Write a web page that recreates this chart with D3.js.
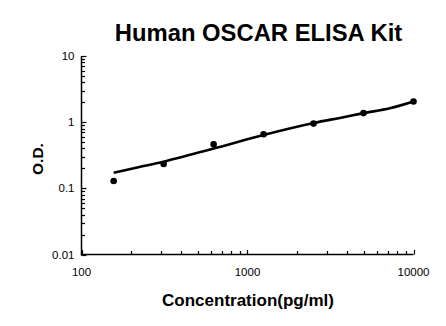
<!DOCTYPE html>
<html>
<head>
<meta charset="utf-8">
<script src="https://cdn.jsdelivr.net/npm/d3@7"></script>
<style>
  html, body { margin: 0; padding: 0; background: #fff; }
  svg { display: block; font-family: "Liberation Sans", Arial, sans-serif; }
</style>
</head>
<body>
<svg id="chart" width="446" height="326"></svg>
<script>
// Standard points (concentration in pg/ml, optical density)
const concentrations = [156.25, 312.5, 625, 1250, 2500, 5000, 10000];
const odValues = [0.129, 0.233, 0.464, 0.658, 0.952, 1.37, 2.05];

// Fitted standard curve, sampled along the concentration range
const curveConc = [156.25, 220, 312.5, 625, 1250, 2500, 3600, 5000, 7200, 10000];
const curveOD = [0.172, 0.209, 0.253, 0.40, 0.64, 0.97, 1.16, 1.37, 1.62, 2.05];

const xTickValues = [100, 1000, 10000];
const xTickLabels = ["100", "1000", "10000"];
const yTickValues = [0.01, 0.1, 1, 10];
const yTickLabels = ["0.01", "0.1", "1", "10"];

const titleText = "Human OSCAR ELISA Kit";
const xTitle = "Concentration(pg/ml)";
const yTitle = "O.D.";

const svg = d3.select("#chart");
const plotLeft = 81.5, plotRight = 413.5, plotTop = 56, plotBottom = 254.5;

const x = d3.scaleLog().domain([100, 10000]).range([plotLeft, plotRight]);
const y = d3.scaleLog().domain([0.01, 10]).range([plotBottom, plotTop]);

// minor ticks for each decade
const xMinor = [];
for (let d = 100; d < 10000; d *= 10) for (let k = 2; k <= 9; k++) xMinor.push(d * k);
const yMinor = [];
for (let d = 0.01; d < 9; d *= 10) for (let k = 2; k <= 9; k++) yMinor.push(+(d * k).toPrecision(3));

const axes = svg.append("g").attr("stroke", "#000");

// minor ticks (pointing inward)
axes.selectAll("line.xm").data(xMinor).join("line")
  .attr("x1", d => Math.round(x(d)) + 0.5).attr("x2", d => Math.round(x(d)) + 0.5)
  .attr("y1", plotBottom).attr("y2", plotBottom - 3.5).attr("stroke-width", 1.2);
axes.selectAll("line.ym").data(yMinor).join("line")
  .attr("y1", d => Math.round(y(d)) + 0.5).attr("y2", d => Math.round(y(d)) + 0.5)
  .attr("x1", plotLeft).attr("x2", plotLeft + 3.5).attr("stroke-width", 1.2);
// major ticks
axes.selectAll("line.xM").data(xTickValues).join("line")
  .attr("x1", d => Math.round(x(d)) + 0.5).attr("x2", d => Math.round(x(d)) + 0.5)
  .attr("y1", plotBottom).attr("y2", plotBottom - 4.5).attr("stroke-width", 1.2);
axes.selectAll("line.yM").data(yTickValues).join("line")
  .attr("y1", d => Math.round(y(d)) + 0.5).attr("y2", d => Math.round(y(d)) + 0.5)
  .attr("x1", plotLeft).attr("x2", plotLeft + 5).attr("stroke-width", 1.2);

// axis lines
axes.append("line").attr("x1", plotLeft).attr("x2", plotLeft).attr("y1", plotTop).attr("y2", plotBottom + 0.7).attr("stroke-width", 1.5);
axes.append("line").attr("x1", plotLeft - 0.7).attr("x2", plotRight).attr("y1", plotBottom).attr("y2", plotBottom).attr("stroke-width", 1.5);

// tick labels
svg.append("g").selectAll("text").data(xTickValues).join("text")
  .attr("x", d => x(d)).attr("y", 276)
  .attr("text-anchor", "middle").attr("font-size", 11.5).attr("fill", "#000")
  .text((d, i) => xTickLabels[i]);
svg.append("g").selectAll("text").data(yTickValues).join("text")
  .attr("x", plotLeft - 7).attr("y", d => y(d) + 4)
  .attr("text-anchor", "end").attr("font-size", 11.5).attr("fill", "#000")
  .text((d, i) => yTickLabels[i]);

// fitted curve
const curveData = curveConc.map((c, i) => [c, curveOD[i]]);
svg.append("path").datum(curveData)
  .attr("fill", "none").attr("stroke", "#000").attr("stroke-width", 2.6)
  .attr("d", d3.line().x(d => x(d[0])).y(d => y(d[1])).curve(d3.curveCatmullRom.alpha(0.5)));

// data points
svg.append("g").selectAll("circle").data(concentrations).join("circle")
  .attr("cx", d => x(d)).attr("cy", (d, i) => y(odValues[i]))
  .attr("r", 3.3).attr("fill", "#000");

// titles
svg.append("text").attr("x", 258.5).attr("y", 41)
  .attr("text-anchor", "middle").attr("font-size", 23.8).attr("font-weight", "bold")
  .text(titleText);
svg.append("text").attr("x", 248).attr("y", 306)
  .attr("text-anchor", "middle").attr("font-size", 17).attr("font-weight", "bold")
  .text(xTitle);
svg.append("text").attr("transform", "translate(43,159) rotate(-90)")
  .attr("text-anchor", "middle").attr("font-size", 15.5).attr("font-weight", "bold")
  .text(yTitle);
</script>
</body>
</html>
